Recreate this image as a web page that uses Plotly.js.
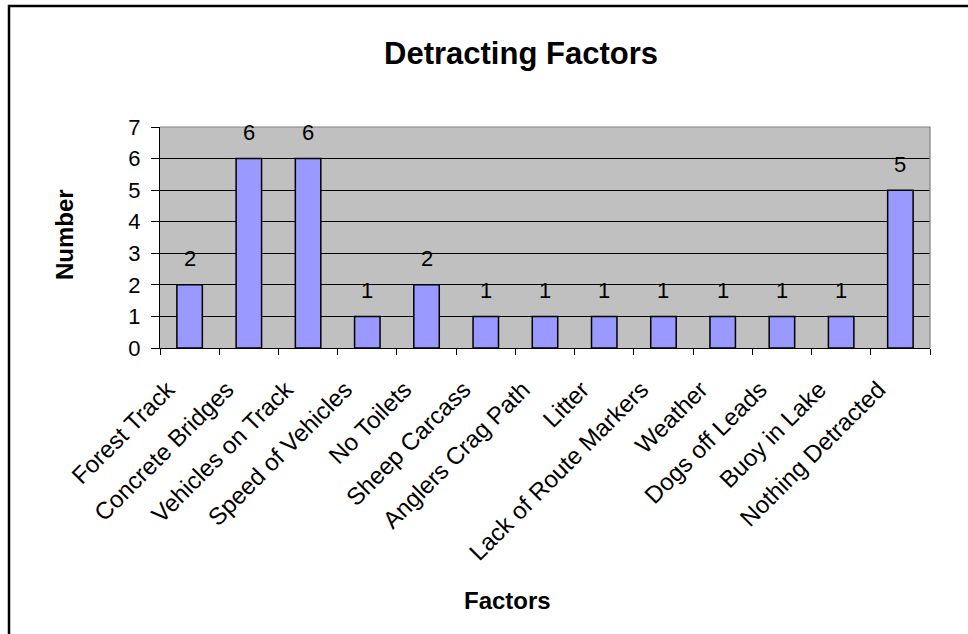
<!DOCTYPE html>
<html>
<head>
<meta charset="utf-8">
<script src="https://cdn.plot.ly/plotly-3.0.1.min.js"></script>
<style>
  html, body { margin: 0; padding: 0; background: #ffffff; }
  #chart { width: 968px; height: 634px; }
</style>
</head>
<body>
<div id="chart"></div>
<script>
// Survey responses: things that detracted from the visit
const factors = [
  "Forest Track", "Concrete Bridges", "Vehicles on Track", "Speed of Vehicles",
  "No Toilets", "Sheep Carcass", "Anglers Crag Path", "Litter",
  "Lack of Route Markers", "Weather", "Dogs off Leads", "Buoy in Lake",
  "Nothing Detracted"
];
const counts = [2, 6, 6, 1, 2, 1, 1, 1, 1, 1, 1, 1, 5];
const yTicks = [0, 1, 2, 3, 4, 5, 6, 7];

const FONT = "Liberation Sans, Arial, sans-serif";

const bars = {
  type: "bar",
  x: factors,
  y: counts,
  width: 0.43,
  marker: { color: "#9999FF", line: { color: "#000000", width: 1.5 } },
  hoverinfo: "x+y"
};

// value labels sit above each bar
const valueLabels = factors.map((f, i) => ({
  x: f, y: counts[i], xref: "x", yref: "y",
  text: String(counts[i]), showarrow: false,
  yshift: 26, font: { family: FONT, size: 22, color: "#000" }
}));

// axis titles
const axisTitles = [
  { xref: "paper", yref: "paper", x: (507 - 160) / 770, y: (348 - 600) / 221,
    xanchor: "center", yanchor: "middle", showarrow: false,
    text: "<b>Factors</b>", font: { family: FONT, size: 24, color: "#000" } },
  { xref: "paper", yref: "paper", x: (64 - 160) / 770, y: (348 - 235) / 221,
    xanchor: "center", yanchor: "middle", showarrow: false, textangle: -90,
    text: "<b>Number</b>", font: { family: FONT, size: 24, color: "#000" } }
];

// chart-area frame (top and left edges) and the grey plot-area edge
const frame = [
  { type: "path", xref: "paper", yref: "paper",
    path: "M -0.1961 -1.35 L -0.1961 1.5475 L 1.06 1.5475",
    line: { color: "#000", width: 2.5 }, layer: "above" },
  { type: "path", xref: "paper", yref: "paper",
    path: "M 0 1 L 1 1 L 1 0",
    line: { color: "#808080", width: 1.2 }, layer: "above" }
];

const layout = {
  width: 968, height: 634,
  margin: { l: 160, r: 38, t: 127, b: 286 },
  paper_bgcolor: "#ffffff",
  plot_bgcolor: "#C0C0C0",
  showlegend: false,
  font: { family: FONT, color: "#000" },
  title: {
    text: "<b>Detracting Factors</b>",
    font: { family: FONT, size: 31, color: "#000" },
    x: 521 / 968, xref: "container", xanchor: "center",
    y: 1 - 53 / 634, yref: "container", yanchor: "middle"
  },
  xaxis: {
    type: "category",
    tickangle: -45,
    tickfont: { family: FONT, size: 24, color: "#000" },
    ticks: "outside", ticklen: 6, tickcolor: "#000", tickwidth: 1,
    tickson: "boundaries",
    ticklabelstandoff: 17,
    ticklabelshift: -22,
    showline: true, linecolor: "#000", linewidth: 1,
    showgrid: false, zeroline: false,
    automargin: false
  },
  yaxis: {
    range: [0, 7],
    tickvals: yTicks,
    ticktext: yTicks.map(String),
    tickfont: { family: FONT, size: 22, color: "#000" },
    ticks: "outside", ticklen: 8, tickcolor: "#000", tickwidth: 1,
    ticklabelstandoff: 6,
    showline: true, linecolor: "#000", linewidth: 1,
    showgrid: true, gridcolor: "#000", gridwidth: 1,
    zeroline: false,
    automargin: false
  },
  annotations: valueLabels.concat(axisTitles),
  shapes: frame
};

Plotly.newPlot("chart", [bars], layout, { staticPlot: true, displayModeBar: false });
</script>
</body>
</html>
